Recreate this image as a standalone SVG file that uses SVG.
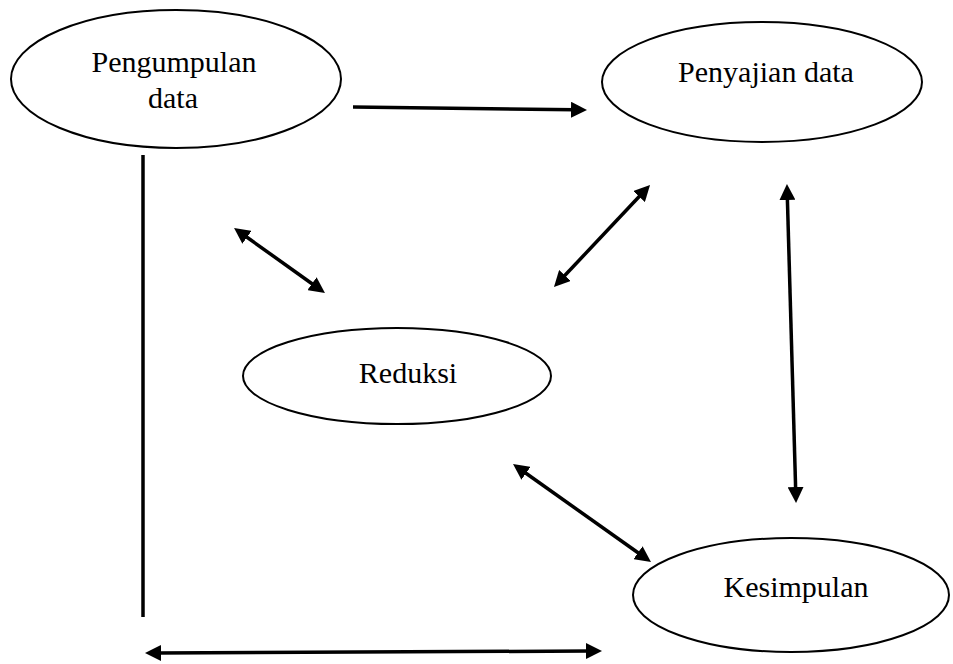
<svg xmlns="http://www.w3.org/2000/svg" width="953" height="664" viewBox="0 0 953 664">
<style>
.node ellipse{fill:#fff;stroke:#000;stroke-width:2}
.node text{font-family:"Liberation Serif","Times New Roman",serif;font-size:30px;fill:#000;text-anchor:middle}
.conn line{stroke:#000;stroke-width:3.5;fill:none}
.one{marker-end:url(#ah)}
.two{marker-start:url(#ah);marker-end:url(#ah)}
</style>
<defs>
<marker id="ah" viewBox="0 0 16 16" refX="4" refY="8" markerWidth="16" markerHeight="16" markerUnits="userSpaceOnUse" orient="auto-start-reverse">
<path d="M0,0 L16,8 L0,16 Z" fill="#000"/>
</marker>
</defs>
<rect width="953" height="664" fill="#fff"/>
<g id="pengumpulan" class="node">
<ellipse cx="176" cy="79" rx="165" ry="69"/>
<text x="174" y="72">Pengumpulan</text>
<text x="173" y="108">data</text>
</g>
<g id="penyajian" class="node">
<ellipse cx="762" cy="82" rx="160" ry="60"/>
<text x="766" y="82">Penyajian data</text>
</g>
<g id="reduksi" class="node">
<ellipse cx="397" cy="376" rx="154" ry="48"/>
<text x="408" y="383">Reduksi</text>
</g>
<g id="kesimpulan" class="node">
<ellipse cx="791" cy="595" rx="158" ry="57"/>
<text x="796" y="597">Kesimpulan</text>
</g>
<g id="connectors" class="conn">
<line class="one" x1="353" y1="107" x2="575" y2="109.8"/>
<line class="two" x1="562.2" y1="278.3" x2="641.8" y2="193.7"/>
<line class="two" x1="243.8" y1="235" x2="315.2" y2="286"/>
<line class="two" x1="787.3" y1="196" x2="795.7" y2="491"/>
<line class="two" x1="522.8" y1="471" x2="641.2" y2="555"/>
<line x1="143" y1="155" x2="143" y2="617"/>
<line class="two" x1="157" y1="653" x2="590" y2="651"/>
</g>
</svg>
